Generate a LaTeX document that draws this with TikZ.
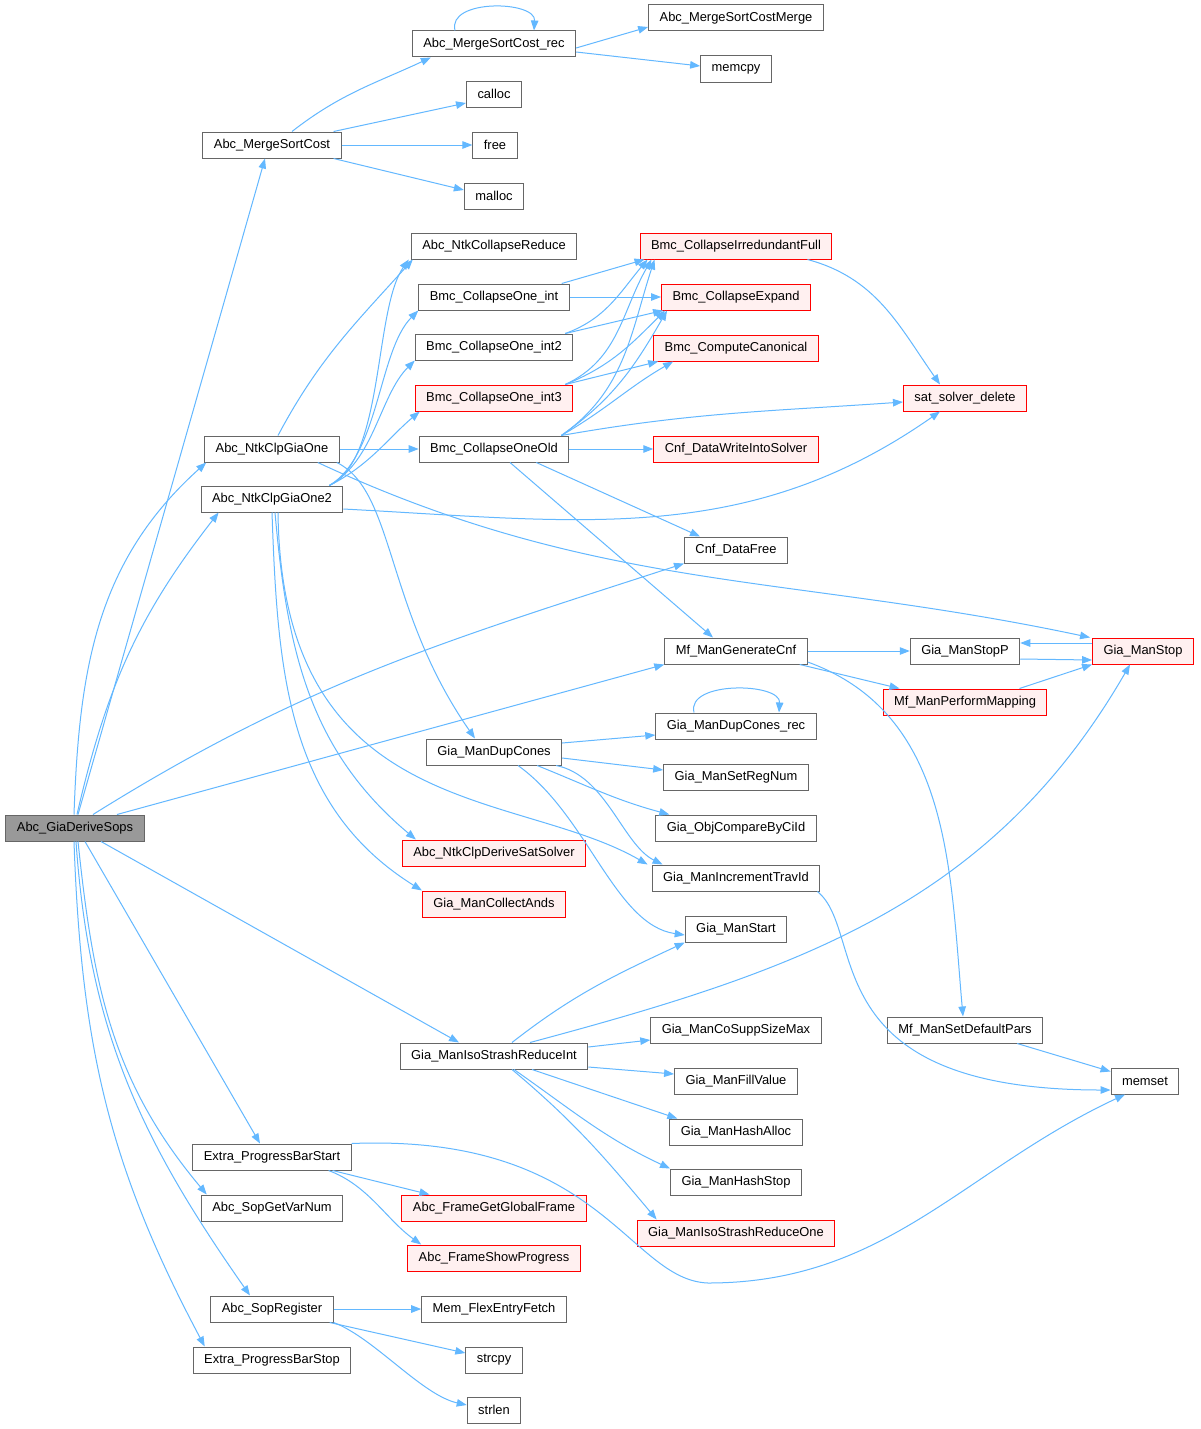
\documentclass[tikz,border=0pt]{standalone}
\usepackage{fontspec}
\setmainfont{Liberation Sans}
\usetikzlibrary{arrows.meta}
\definecolor{edgeblue}{HTML}{63B8FF}
\definecolor{boxgray}{HTML}{666666}
\definecolor{rootgray}{HTML}{999999}
\definecolor{redfill}{HTML}{FFF0F0}
\tikzset{
	fn/.style={draw=boxgray, fill=white, line width=1pt, minimum height=26pt,
		inner xsep=11pt, inner ysep=0pt, font=\fontsize{12.9}{15}\selectfont},
	fnred/.style={fn, draw=red, fill=redfill},
	fnroot/.style={fn, fill=rootgray},
	callarrow/.style={draw=edgeblue, line width=1pt, -{Triangle[length=10pt,width=7.5pt]}}
}

\begin{document}
\begin{tikzpicture}[x=1pt,y=-1pt]
	\path[fill=white, use as bounding box] (0,0) rectangle (1201,1429);

	%root and first column
	\node[fnroot] (root) at (75,828) {Abc\_GiaDeriveSops};
	\node[fn] (msc) at (272,145) {Abc\_MergeSortCost};
	\node[fn] (clpone) at (272,449) {Abc\_NtkClpGiaOne};
	\node[fn] (clptwo) at (272,499) {Abc\_NtkClpGiaOne2};
	\node[fn] (pbstart) at (272,1157) {Extra\_ProgressBarStart};
	\node[fn] (varnum) at (272,1208) {Abc\_SopGetVarNum};
	\node[fn] (sopreg) at (272,1309) {Abc\_SopRegister};
	\node[fn] (pbstop) at (272,1360) {Extra\_ProgressBarStop};

	%second column
	\node[fn] (mscrec) at (494,44) {Abc\_MergeSortCost\_rec};
	\node[fn] (calloc) at (494,94) {calloc};
	\node[fn] (free) at (495,145) {free};
	\node[fn] (malloc) at (494,196) {malloc};
	\node[fn] (ncr) at (494,246) {Abc\_NtkCollapseReduce};
	\node[fn] (coint) at (494,297) {Bmc\_CollapseOne\_int};
	\node[fn] (cointtwo) at (494,347) {Bmc\_CollapseOne\_int2};
	\node[fnred] (cointthree) at (494,398) {Bmc\_CollapseOne\_int3};
	\node[fn] (coold) at (494,449) {Bmc\_CollapseOneOld};
	\node[fn] (dupcones) at (494,752) {Gia\_ManDupCones};
	\node[fnred] (derivesat) at (494,853) {Abc\_NtkClpDeriveSatSolver};
	\node[fnred] (collands) at (494,904) {Gia\_ManCollectAnds};
	\node[fn] (isoint) at (494,1056) {Gia\_ManIsoStrashReduceInt};
	\node[fnred] (globframe) at (494,1208) {Abc\_FrameGetGlobalFrame};
	\node[fnred] (showprog) at (494,1258) {Abc\_FrameShowProgress};
	\node[fn] (flexfetch) at (494,1309) {Mem\_FlexEntryFetch};
	\node[fn] (strcpy) at (494,1360) {strcpy};
	\node[fn] (strlen) at (494,1410) {strlen};

	%third column
	\node[fn] (mscmerge) at (736,18) {Abc\_MergeSortCostMerge};
	\node[fn] (memcpy) at (736,69) {memcpy};
	\node[fnred] (irr) at (736,246) {Bmc\_CollapseIrredundantFull};
	\node[fnred] (expand) at (736,297) {Bmc\_CollapseExpand};
	\node[fnred] (canon) at (736,348) {Bmc\_ComputeCanonical};
	\node[fnred] (cnfwrite) at (736,449) {Cnf\_DataWriteIntoSolver};
	\node[fn] (cnffree) at (736,550) {Cnf\_DataFree};
	\node[fn] (mfcnf) at (736,651) {Mf\_ManGenerateCnf};
	\node[fn] (duprec) at (736,726) {Gia\_ManDupCones\_rec};
	\node[fn] (setreg) at (736,777) {Gia\_ManSetRegNum};
	\node[fn] (cmpci) at (736,828) {Gia\_ObjCompareByCiId};
	\node[fn] (travid) at (736,878) {Gia\_ManIncrementTravId};
	\node[fn] (start) at (736,929) {Gia\_ManStart};
	\node[fn] (cosupp) at (736,1030) {Gia\_ManCoSuppSizeMax};
	\node[fn] (fillv) at (736,1081) {Gia\_ManFillValue};
	\node[fn] (hashalloc) at (736,1132) {Gia\_ManHashAlloc};
	\node[fn] (hashstop) at (736,1182) {Gia\_ManHashStop};
	\node[fnred] (isoone) at (736,1233) {Gia\_ManIsoStrashReduceOne};

	%right columns
	\node[fnred] (satdel) at (965,398) {sat\_solver\_delete};
	\node[fn] (stopp) at (965,651) {Gia\_ManStopP};
	\node[fnred] (perfmap) at (965,702) {Mf\_ManPerformMapping};
	\node[fn] (defpars) at (965,1030) {Mf\_ManSetDefaultPars};
	\node[fnred] (stop) at (1143,651) {Gia\_ManStop};
	\node[fn] (memset) at (1145,1081) {memset};
	\coordinate (pbdip) at (708,1283);

	%calls of Abc_GiaDeriveSops
	\draw[callarrow] ([xshift=3pt]root.north) -- ([xshift=-7pt]msc.south);
	\draw[callarrow] ([xshift=-1pt]root.north) to[out=88,in=222] ([xshift=2pt]clpone.south west);
	\draw[callarrow] ([xshift=2pt]root.north) to[out=77,in=232] ([xshift=18pt]clptwo.south west);
	\draw[callarrow] ([xshift=18pt]root.north) to[out=32,in=198] (cnffree.south west);
	\draw[callarrow] ([xshift=42pt]root.north) -- (mfcnf.south west);
	\draw[callarrow] ([xshift=26pt]root.south) -- ([xshift=-35pt]isoint.north);
	\draw[callarrow] ([xshift=10pt]root.south) -- ([xshift=-12pt]pbstart.north);
	\draw[callarrow] ([xshift=3pt]root.south) to[out=-84,in=130] ([xshift=6pt]varnum.north west);
	\draw[callarrow] ([xshift=1pt]root.south) to[out=-86,in=125] ([xshift=-22pt]sopreg.north);
	\draw[callarrow] ([xshift=-1pt]root.south) to[out=-88,in=118] ([xshift=12pt]pbstop.north west);

	%Abc_MergeSortCost
	\draw[callarrow] ([xshift=20pt]msc.north) to[out=38,in=205] ([xshift=19pt]mscrec.south west);
	\draw[callarrow] ([xshift=-8pt]msc.north east) -- ([yshift=-9pt]calloc.west);
	\draw[callarrow] (msc) -- (free);
	\draw[callarrow] ([xshift=-8pt]msc.south east) -- ([yshift=6pt]malloc.west);
	\draw[callarrow] ([xshift=-39pt]mscrec.north) .. controls +(-8,-32) and +(2,-30) .. ([xshift=40pt]mscrec.north);
	\draw[callarrow] ([yshift=-4pt]mscrec.east) -- ([yshift=-9pt]mscmerge.west);
	\draw[callarrow] ([yshift=-8pt]mscrec.east) -- ([yshift=3pt]memcpy.west);

	%Abc_NtkClpGiaOne
	\draw[callarrow] ([xshift=6pt]clpone.north) to[out=62,in=228] ([xshift=2pt]ncr.south west);
	\draw[callarrow] (clpone) -- (coold);
	\draw[callarrow] ([xshift=-3pt]clpone.south east) .. controls +(58,28) and +(-90,-129) .. ([xshift=-19pt]dupcones.north);
	\draw[callarrow] ([xshift=-22pt]clpone.south east) to[out=-25,in=168] ([xshift=-2pt]stop.north west);

	%Abc_NtkClpGiaOne2
	\draw[callarrow] ([xshift=-14pt]clptwo.north east) .. controls +(55,-25) and +(-35,50) .. ([xshift=-2pt]ncr.south west);
	\draw[callarrow] ([xshift=-14pt]clptwo.north east) .. controls +(50,-30) and +(-40,40) .. (coint.south west);
	\draw[callarrow] ([xshift=-14pt]clptwo.north east) .. controls +(45,-25) and +(-35,35) .. (cointtwo.south west);
	\draw[callarrow] ([xshift=-14pt]clptwo.north east) .. controls +(40,-20) and +(-30,25) .. ([xshift=5pt]cointthree.south west);
	\draw[callarrow] ([yshift=-10pt]clptwo.east) to[out=-3,in=215] ([xshift=-25pt]satdel.south);
	\draw[callarrow] ([xshift=3pt]clptwo.south) to[out=-85,in=140] ([xshift=14pt]derivesat.north west);
	\draw[callarrow] (clptwo.south) to[out=-88,in=148] (collands.north west);
	\draw[callarrow] ([xshift=6pt]clptwo.south) .. controls +(4,308) and +(-132,-76) .. ([xshift=-4pt]travid.north west);

	%Bmc_CollapseOne_*
	\draw[callarrow] ([xshift=-8pt]coint.north east) -- ([xshift=5pt]irr.south west);
	\draw[callarrow] (coint) -- (expand);
	\draw[callarrow] ([xshift=-8pt]cointtwo.north east) to[out=20,in=230] ([xshift=8pt]irr.south west);
	\draw[callarrow] ([xshift=-8pt]cointtwo.north east) -- ([xshift=2pt]expand.south west);
	\draw[callarrow] ([xshift=-8pt]cointthree.north east) to[out=25,in=240] ([xshift=12pt]irr.south west);
	\draw[callarrow] ([xshift=-8pt]cointthree.north east) to[out=22,in=225] ([xshift=4pt]expand.south west);
	\draw[callarrow] ([xshift=-8pt]cointthree.north east) -- ([xshift=5pt]canon.south west);

	%Bmc_CollapseOneOld
	\draw[callarrow] ([xshift=-8pt]coold.north east) to[out=35,in=252] ([xshift=15pt]irr.south west);
	\draw[callarrow] ([xshift=-8pt]coold.north east) to[out=35,in=240] ([xshift=6pt]expand.south west);
	\draw[callarrow] ([xshift=-8pt]coold.north east) to[out=30,in=210] ([xshift=20pt]canon.south west);
	\draw[callarrow] ([xshift=-8pt]coold.north east) to[out=10,in=184] ([yshift=-4pt]satdel.west);
	\draw[callarrow] (coold) -- (cnfwrite);
	\draw[callarrow] ([xshift=-33pt]coold.south east) -- ([xshift=-36pt]cnffree.north);
	\draw[callarrow] ([xshift=16pt]coold.south) -- ([xshift=-23pt]mfcnf.north);
	\draw[callarrow] ([xshift=-25pt]irr.south east) to[out=-15,in=125] ([xshift=-25pt]satdel.north);

	%Mf_ManGenerateCnf and Gia_ManStop
	\draw[callarrow] (mfcnf) -- (stopp);
	\draw[callarrow] ([xshift=-8pt]mfcnf.south east) -- ([xshift=17pt]perfmap.north west);
	\draw[callarrow] ([yshift=-11pt]mfcnf.east) to[out=-20,in=95] ([xshift=-2pt]defpars.north);
	\draw[callarrow] ([yshift=8pt]stop.west) -- ([yshift=8pt]stopp.east);
	\draw[callarrow] ([yshift=-8pt]stopp.east) -- ([yshift=-9pt]stop.west);
	\draw[callarrow] ([xshift=-28pt]perfmap.north east) -- (stop.south west);
	\draw[callarrow] ([xshift=-26pt]defpars.south east) -- ([yshift=-4pt]memset.north west);

	%Gia_ManDupCones
	\draw[callarrow] ([yshift=9pt]dupcones.east) -- ([yshift=-9pt]duprec.west);
	\draw[callarrow] ([yshift=-6pt]dupcones.east) -- ([yshift=7pt]setreg.west);
	\draw[callarrow] ([xshift=-25pt]dupcones.south east) to[out=-22,in=165] ([xshift=14pt]cmpci.north west);
	\draw[callarrow] ([xshift=-6pt]dupcones.south east) .. controls +(50,10) and +(-40,-20) .. ([xshift=11pt]travid.north west);
	\draw[callarrow] ([xshift=24pt]dupcones.south) .. controls +(70,50) and +(-70,-10) .. ([yshift=-6pt]start.west);
	\draw[callarrow] ([xshift=-42pt]duprec.north) .. controls +(-8,-32) and +(2,-30) .. ([xshift=43pt]duprec.north);
	\draw[callarrow] ([xshift=-3pt]travid.south east) .. controls +(50,40) and +(-300,0) .. ([yshift=-9pt]memset.west);

	%Gia_ManIsoStrashReduceInt
	\draw[callarrow] ([xshift=18pt]isoint.north) to[out=38,in=205] (start.south west);
	\draw[callarrow] ([xshift=36pt]isoint.north) to[out=15,in=240] ([xshift=-13pt]stop.south);
	\draw[callarrow] ([yshift=9pt]isoint.east) -- ([yshift=-10pt]cosupp.west);
	\draw[callarrow] ([yshift=-11pt]isoint.east) -- ([yshift=7pt]fillv.west);
	\draw[callarrow] ([xshift=38pt]isoint.south) -- ([xshift=8pt]hashalloc.north west);
	\draw[callarrow] ([xshift=20pt]isoint.south) to[out=-35,in=155] (hashstop.north west);
	\draw[callarrow] ([xshift=18pt]isoint.south) to[out=-40,in=130] ([xshift=20pt]isoone.north west);

	%Extra_ProgressBarStart and Abc_SopRegister
	\draw[callarrow] ([xshift=-19pt]pbstart.south east) -- ([xshift=28pt]globframe.north west);
	\draw[callarrow] ([xshift=-23pt]pbstart.south east) .. controls +(40,15) and +(-35,-25) .. ([xshift=14pt]showprog.north west);
	\draw[callarrow] (pbstart.north east) .. controls +(250,-10) and +(-80,-3) .. (pbdip) to[out=0,in=205] ([xshift=-20pt]memset.south);
	\draw[callarrow] (sopreg) -- (flexfetch);
	\draw[callarrow] ([xshift=-4pt]sopreg.south east) -- ([yshift=7pt]strcpy.west);
	\draw[callarrow] (sopreg.south east) .. controls +(40,15) and +(-45,-10) .. ([yshift=5pt]strlen.west);
\end{tikzpicture}
\end{document}
